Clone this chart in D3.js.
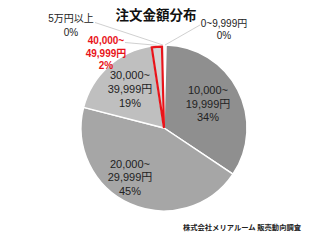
<!DOCTYPE html>
<html><head><meta charset="utf-8">
<script src="https://cdn.jsdelivr.net/npm/d3@7/dist/d3.min.js"></script>
<style>body{margin:0;background:#fff;}svg{display:block;}</style>
</head><body><svg id="c" width="335" height="240"></svg>
<script>
const categories = ["0~9,999円", "10,000~19,999円", "20,000~29,999円", "30,000~39,999円", "40,000~49,999円", "5万円以上"];
const labelLines = [["0~9,999円"], ["10,000~", "19,999円"], ["20,000~", "29,999円"], ["30,000~", "39,999円"], ["40,000~", "49,999円"], ["5万円以上"]];
const values = [0.4, 34.0, 44.6, 18.6, 2.0, 0.4];
const title = "注文金額分布";
const source = "株式会社メリアルーム 販売動向調査";

const fills = ["#d0d0d0", "#8f8f8f", "#a6a6a6", "#bfbfbf", "#d4d4d4", "#d0d0d0"];
const font = "'Liberation Sans', Arial, 'Noto Sans CJK JP', sans-serif";
// label anchor positions (layout)
const labelPos = [
  {x: 224, y: 23, lh: 12.5, outside: true, lineFrom: [200, 25]},
  {x: 208, y: 90, lh: 13.5},
  {x: 130, y: 163.5, lh: 13.5},
  {x: 130, y: 74.5, lh: 14},
  {x: 106, y: 40.5, lh: 12.5, red: true, lineFrom: [125, 42.5]},
  {x: 71, y: 18, lh: 14, outside: true, lineFrom: [95, 22.5]}
];

const svg = d3.select("#c");
const cx = 164, cy = 128, r = 83;
const pie = d3.pie().sort(null).value(d => d).startAngle(0).endAngle(2 * Math.PI);
const arcs = pie(values);
const arc = d3.arc().innerRadius(0).outerRadius(r);
const edge = d3.arc().innerRadius(r).outerRadius(r);
const total = d3.sum(values);

const g = svg.append("g").attr("transform", `translate(${cx},${cy})`);
g.selectAll("path.s").data(arcs).join("path")
  .attr("class", "s")
  .attr("d", arc)
  .attr("fill", (d, i) => fills[i])
  .attr("stroke", "#fff").attr("stroke-width", 1.5).attr("stroke-linejoin", "round");

// highlighted slice
const hi = 4;
g.append("path").attr("d", d3.arc().innerRadius(0).outerRadius(r - 1.5)(arcs[hi]))
  .attr("fill", "none").attr("stroke", "#e8141a").attr("stroke-width", 2.2).attr("stroke-linejoin", "miter");

// leader lines
arcs.forEach((a, i) => {
  const p = labelPos[i];
  if (!p.lineFrom) return;
  const e = edge.centroid(a);
  svg.append("line")
    .attr("x1", p.lineFrom[0]).attr("y1", p.lineFrom[1])
    .attr("x2", cx + e[0]).attr("y2", cy + e[1])
    .attr("stroke", "#c4c4c4").attr("stroke-width", 0.8);
});

// labels
arcs.forEach((a, i) => {
  const p = labelPos[i];
  const pct = Math.round(values[i] / total * 100) + "%";
  const lines = labelLines[i].concat([pct]);
  const t = svg.append("text")
    .attr("text-anchor", "middle")
    .attr("font-family", font)
    .attr("font-size", p.red ? 10 : (p.outside ? 10 : 11))
    .attr("font-weight", p.red ? "bold" : "normal")
    .attr("fill", p.red ? "#e8141a" : "#222");
  lines.forEach((s, k) => {
    t.append("tspan").attr("x", p.x).attr("y", p.y + k * p.lh)
      .attr("dominant-baseline", "central").text(s);
  });
});

svg.append("text").attr("x", 156).attr("y", 14).attr("text-anchor", "middle")
  .attr("dominant-baseline", "central")
  .attr("font-family", "'Noto Sans CJK JP', sans-serif").attr("font-size", 13.5).attr("font-weight", "bold")
  .attr("fill", "#111").text(title);

svg.append("text").attr("x", 242).attr("y", 226.5).attr("text-anchor", "middle")
  .attr("dominant-baseline", "central")
  .attr("font-family", "'Noto Sans CJK JP', sans-serif").attr("font-size", 7.3).attr("font-weight", "bold")
  .attr("fill", "#222").text(source);
</script></body></html>
